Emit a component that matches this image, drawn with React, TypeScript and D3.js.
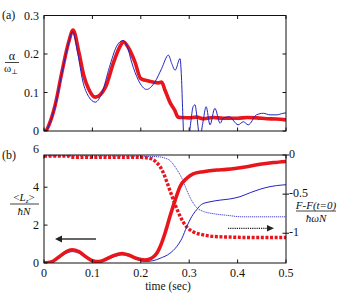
import React from 'react';
import * as d3 from 'd3';

// panel (a): alpha / omega_perp
const aRedT = [0, 0.005, 0.01, 0.023, 0.037, 0.051, 0.06, 0.072, 0.082, 0.092, 0.106, 0.127, 0.144, 0.158, 0.164, 0.175, 0.188, 0.2, 0.216, 0.236, 0.243, 0.25, 0.26, 0.27, 0.277, 0.285, 0.3, 0.315, 0.33, 0.35, 0.37, 0.4, 0.42, 0.44, 0.46, 0.48, 0.5];
const aRedV = [0, 0.002, 0.015, 0.067, 0.153, 0.231, 0.262, 0.205, 0.145, 0.11, 0.088, 0.114, 0.179, 0.222, 0.232, 0.215, 0.179, 0.136, 0.13, 0.125, 0.127, 0.106, 0.075, 0.054, 0.036, 0.035, 0.034, 0.036, 0.032, 0.035, 0.033, 0.033, 0.035, 0.034, 0.032, 0.031, 0.029];

const aBlueT = [0, 0.005, 0.01, 0.023, 0.037, 0.051, 0.059, 0.07, 0.08, 0.092, 0.106, 0.12, 0.135, 0.15, 0.163, 0.172, 0.181, 0.195, 0.212, 0.229, 0.243, 0.257, 0.264, 0.271, 0.281, 0.284, 0.2866, 0.289, 0.294, 0.298, 0.303, 0.308, 0.312, 0.316, 0.322, 0.328, 0.335, 0.343, 0.353, 0.364, 0.37, 0.384, 0.392, 0.401, 0.412, 0.422, 0.439, 0.453, 0.467, 0.481, 0.494, 0.5];
const aBlueV = [0, 0.002, 0.014, 0.065, 0.15, 0.228, 0.258, 0.2, 0.13, 0.09, 0.075, 0.1, 0.165, 0.22, 0.235, 0.22, 0.179, 0.132, 0.108, 0.127, 0.162, 0.197, 0.175, 0.158, 0.188, 0.14, 0.05, -0.02, -0.04, -0.03, 0.02, 0.063, 0.068, 0.037, -0.02, 0.02, 0.063, 0.016, 0.059, 0.02, 0.033, 0.037, 0.026, 0.016, 0.024, 0.016, 0.042, 0.046, 0.042, 0.042, 0.046, 0.047];

// panel (b): <Lz>/hN (left) and (F-F(0))/hwN (right)
const lRedT = [0, 0.015, 0.03, 0.045, 0.058, 0.072, 0.088, 0.1, 0.113, 0.128, 0.145, 0.161, 0.175, 0.19, 0.209, 0.222, 0.233, 0.24, 0.25, 0.26, 0.271, 0.281, 0.295, 0.308, 0.329, 0.357, 0.377, 0.398, 0.419, 0.446, 0.474, 0.5];
const lRedV = [0, 0.05, 0.3, 0.58, 0.7, 0.6, 0.3, 0.12, 0.07, 0.2, 0.4, 0.5, 0.42, 0.25, 0.16, 0.25, 0.51, 0.86, 1.57, 2.44, 3.32, 4.03, 4.47, 4.7, 4.82, 4.91, 4.94, 5.0, 5.08, 5.21, 5.3, 5.36];

const lBlueT = [0, 0.015, 0.03, 0.045, 0.058, 0.072, 0.088, 0.1, 0.113, 0.128, 0.145, 0.161, 0.175, 0.19, 0.209, 0.225, 0.24, 0.26, 0.274, 0.285, 0.295, 0.305, 0.315, 0.326, 0.343, 0.364, 0.384, 0.405, 0.426, 0.446, 0.467, 0.494, 0.5];
const lBlueV = [0, 0.04, 0.25, 0.5, 0.6, 0.52, 0.25, 0.08, 0.04, 0.15, 0.33, 0.43, 0.37, 0.2, 0.08, 0.12, 0.25, 0.51, 0.86, 1.3, 1.92, 2.44, 2.8, 3.1, 3.23, 3.32, 3.38, 3.5, 3.71, 3.89, 4.03, 4.12, 4.13];

const fRedT = [0, 0.05, 0.055, 0.1, 0.15, 0.2, 0.223, 0.233, 0.24, 0.246, 0.253, 0.26, 0.267, 0.274, 0.281, 0.288, 0.295, 0.308, 0.329, 0.35, 0.39, 0.43, 0.47, 0.5];
const fRedV = [-0.012, -0.012, -0.028, -0.028, -0.028, -0.03, -0.05, -0.1, -0.15, -0.22, -0.33, -0.45, -0.57, -0.68, -0.78, -0.86, -0.92, -0.98, -1.02, -1.04, -1.05, -1.055, -1.055, -1.055];

const fBlueT = [0, 0.1, 0.2, 0.24, 0.25, 0.26, 0.274, 0.285, 0.295, 0.305, 0.315, 0.329, 0.35, 0.377, 0.411, 0.45, 0.5];
const fBlueV = [-0.01, -0.01, -0.015, -0.025, -0.04, -0.07, -0.18, -0.3, -0.45, -0.58, -0.67, -0.72, -0.75, -0.77, -0.79, -0.79, -0.79];

const xTicks = [0, 0.1, 0.2, 0.3, 0.4, 0.5];
const xTickLabels = ['0', '0.1', '0.2', '0.3', '0.4', '0.5'];
const aTicks = [0, 0.1, 0.2, 0.3];
const aTickLabels = ['0', '0.1', '0.2', '0.3'];
const lTicks = [0, 2, 4, 6];
const fTicks = [0, -0.5, -1];
const fTickLabels = ['0', '-0.5', '-1'];

const RED = '#e8161c';
const BLUE = '#2424c0';
const FONT = '"Liberation Serif", "DejaVu Serif", serif';

const W = 348, H = 299;
const L = 44, R = 286;
const aTop = 15.5, aBot = 131;
const bTop = 155, bBot = 263;

const zip = (t: number[], v: number[]) => t.map((d, i) => [d, v[i]] as [number, number]);

export default function App() {
  const x = d3.scaleLinear().domain([0, 0.5]).range([L, R]);
  const ya = d3.scaleLinear().domain([0, 0.3]).range([aBot, aTop]);
  const yl = d3.scaleLinear().domain([0, 5.7]).range([bBot, bTop]);
  const yf = d3.scaleLinear().domain([-1.38, 0]).range([bBot, bTop]);

  const mk = (ys: d3.ScaleLinear<number, number>) =>
    d3.line<[number, number]>().x(d => x(d[0])).y(d => ys(d[1])).curve(d3.curveMonotoneX);

  const tk = 3.5;

  return (
    <svg width={W} height={H} style={{ position: 'fixed', left: 0, top: 0, background: '#fff' }} fontFamily={FONT}>
      <defs>
        <clipPath id="clipA"><rect x={L} y={aTop} width={R - L} height={aBot - aTop} /></clipPath>
        <clipPath id="clipB"><rect x={L} y={bTop} width={R - L} height={bBot - bTop} /></clipPath>
      </defs>

      {/* panel (a) */}
      <g clipPath="url(#clipA)">
        <path d={mk(ya)(zip(aRedT, aRedV)) || ''} fill="none" stroke={RED} strokeWidth={3.6} strokeLinejoin="round" />
        <path d={mk(ya)(zip(aBlueT, aBlueV)) || ''} fill="none" stroke={BLUE} strokeWidth={1} />
      </g>
      <rect x={L} y={aTop} width={R - L} height={aBot - aTop} fill="none" stroke="#111" strokeWidth={1} />
      {xTicks.map(t => (
        <g key={'ax' + t}>
          <line x1={x(t)} x2={x(t)} y1={aTop} y2={aTop + tk} stroke="#111" />
          <line x1={x(t)} x2={x(t)} y1={aBot} y2={aBot - tk} stroke="#111" />
        </g>
      ))}
      {aTicks.map((v, i) => (
        <g key={'ay' + v}>
          <line x1={L} x2={L + tk} y1={ya(v)} y2={ya(v)} stroke="#111" />
          <line x1={R} x2={R - tk} y1={ya(v)} y2={ya(v)} stroke="#111" />
          <text x={39} y={ya(v) + 4} fontSize={12} textAnchor="end" fill="#111">{aTickLabels[i]}</text>
        </g>
      ))}
      <text x={2} y={19} fontSize={12} fill="#111">(a)</text>
      <text x={12} y={60} fontSize={12} textAnchor="middle" fill="#111">α</text>
      <line x1={5} x2={19} y1={62.5} y2={62.5} stroke="#111" strokeWidth={0.8} />
      <text x={11} y={72} fontSize={11} textAnchor="middle" fill="#111">ω<tspan fontSize={7} dy={2}>⊥</tspan></text>

      {/* panel (b) */}
      <g clipPath="url(#clipB)">
        <path d={mk(yf)(zip(fBlueT, fBlueV)) || ''} fill="none" stroke={BLUE} strokeWidth={1} strokeDasharray="1.2,0.8" opacity={0.85} />
        <path d={mk(yf)(zip(fRedT, fRedV)) || ''} fill="none" stroke={RED} strokeWidth={3.4} strokeDasharray="3,1.6" />
        <path d={mk(yl)(zip(lBlueT, lBlueV)) || ''} fill="none" stroke={BLUE} strokeWidth={1} />
        <path d={mk(yl)(zip(lRedT, lRedV)) || ''} fill="none" stroke={RED} strokeWidth={3.6} strokeLinejoin="round" />
      </g>
      <rect x={L} y={bTop} width={R - L} height={bBot - bTop} fill="none" stroke="#111" strokeWidth={1} />
      {xTicks.map((t, i) => (
        <g key={'bx' + t}>
          <line x1={x(t)} x2={x(t)} y1={bTop} y2={bTop + tk} stroke="#111" />
          <line x1={x(t)} x2={x(t)} y1={bBot} y2={bBot - tk} stroke="#111" />
          <text x={x(t)} y={276.5} fontSize={12} textAnchor="middle" fill="#111">{xTickLabels[i]}</text>
        </g>
      ))}
      {lTicks.map(v => (
        <g key={'ly' + v}>
          {yl(v) >= bTop && <line x1={L} x2={L + tk} y1={yl(v)} y2={yl(v)} stroke="#111" />}
          <text x={39} y={yl(v) + 4} fontSize={12} textAnchor="end" fill="#111">{v}</text>
        </g>
      ))}
      {fTicks.map((v, i) => (
        <g key={'fy' + v}>
          <line x1={R - tk} x2={R + 3} y1={yf(v)} y2={yf(v)} stroke="#111" />
          <text x={289} y={yf(v) + 3} fontSize={12} fill="#111">{fTickLabels[i]}</text>
        </g>
      ))}
      <text x={2} y={159} fontSize={12} fill="#111">(b)</text>
      <text x={24} y={201} fontSize={11} textAnchor="middle" fill="#111">&lt;<tspan fontStyle="italic">L</tspan><tspan fontSize={7} dy={2} fontStyle="italic">z</tspan><tspan dy={-2}>&gt;</tspan></text>
      <line x1={10} x2={39} y1={204} y2={204} stroke="#111" strokeWidth={0.8} />
      <text x={24} y={215} fontSize={11} textAnchor="middle" fontStyle="italic" fill="#111">ħN</text>
      <text x={316} y={208.5} fontSize={11} textAnchor="middle" fontStyle="italic" fill="#111">F-F(t=0)</text>
      <line x1={296} x2={336} y1={211} y2={211} stroke="#111" strokeWidth={0.8} />
      <text x={316} y={222} fontSize={11} textAnchor="middle" fontStyle="italic" fill="#111">ħωN</text>
      <text x={168} y={289.5} fontSize={11.5} textAnchor="middle" fill="#111">time (sec)</text>

      {/* arrows */}
      <line x1={96} x2={60} y1={239} y2={239} stroke="#333" strokeWidth={1.3} />
      <path d="M55,239 L62,235.5 L62,242.5 Z" fill="#222" />
      <line x1={228} x2={268} y1={228.3} y2={228.3} stroke="#222" strokeWidth={1.3} strokeDasharray="1.2,1" />
      <path d="M274,228.3 L267,225 L267,231.6 Z" fill="#222" />
    </svg>
  );
}
